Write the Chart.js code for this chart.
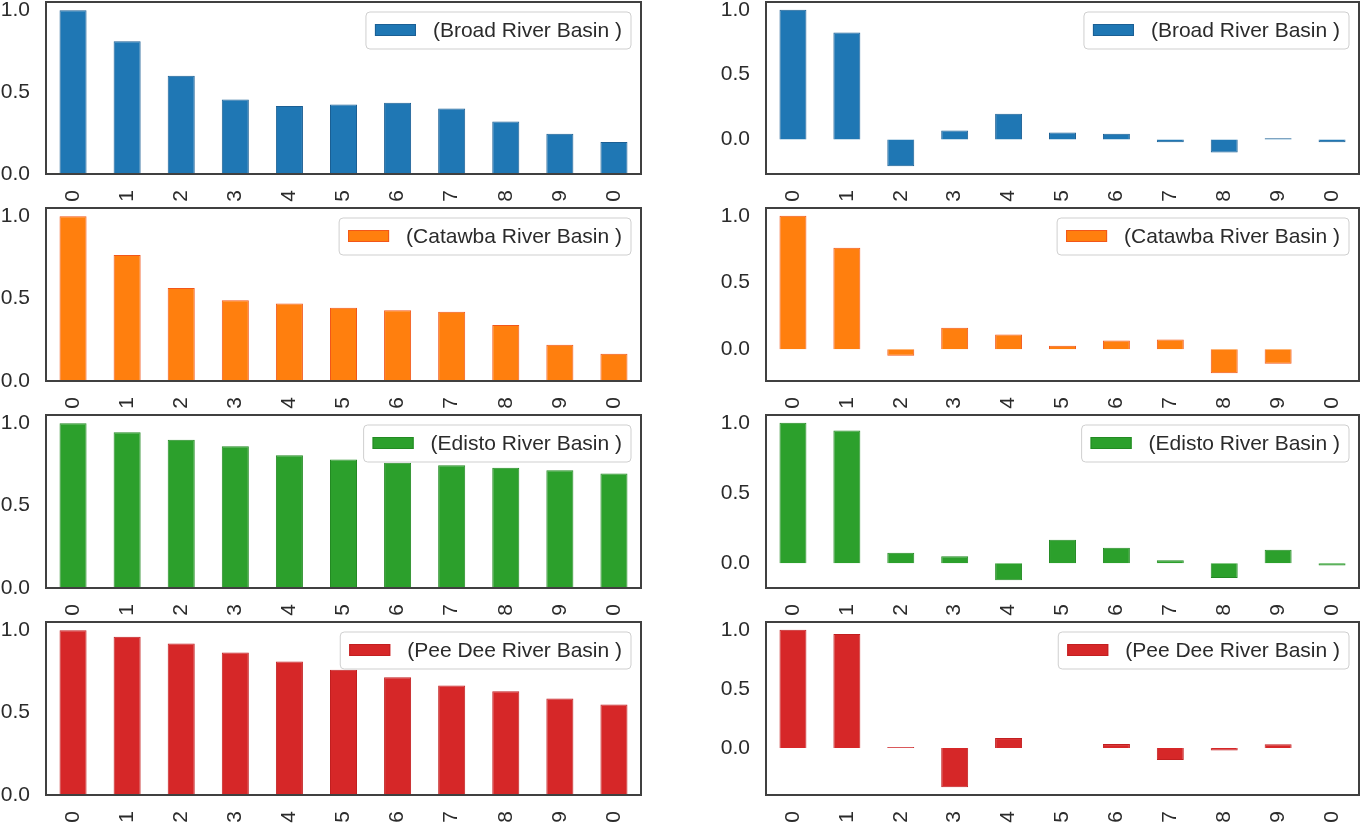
<!DOCTYPE html>
<html>
<head>
<meta charset="utf-8">
<script src="https://cdn.jsdelivr.net/npm/chart.js@4.4.0/dist/chart.umd.min.js"></script>
<style>
  body { margin: 0; background: #fff; width: 1362px; height: 827px; position: relative; overflow: hidden; }
  canvas { position: absolute; }
</style>
</head>
<body>
<script>
// lag labels (last one is shown as "0" in the original)
const lagLabels = ['0', '1', '2', '3', '4', '5', '6', '7', '8', '9', '0'];
const yTicks = [0, 0.5, 1.0];

const basinNames = ['(Broad River Basin )', '(Catawba River Basin )', '(Edisto River Basin )', '(Pee Dee River Basin )'];
const basinColors = ['#1f77b4', '#ff7f0e', '#2ca02c', '#d62728'];
const basinEdges = ['#1b5f94', '#f2561a', '#238a23', '#c21f20'];

// left column (autocorrelation)
const broadAcf   = [1.0, 0.81, 0.60, 0.455, 0.415, 0.425, 0.435, 0.40, 0.32, 0.245, 0.195];
const catawbaAcf = [1.0, 0.765, 0.565, 0.49, 0.47, 0.445, 0.43, 0.42, 0.34, 0.22, 0.165];
const edistoAcf  = [1.0, 0.945, 0.90, 0.86, 0.805, 0.78, 0.76, 0.745, 0.73, 0.715, 0.695];
const peeDeeAcf  = [1.0, 0.96, 0.92, 0.865, 0.81, 0.76, 0.715, 0.665, 0.63, 0.585, 0.55];

// right column (partial autocorrelation)
const broadPacf   = [1.0, 0.825, -0.205, 0.07, 0.2, 0.055, 0.045, -0.02, -0.10, 0.01, -0.02];
const catawbaPacf = [1.0, 0.76, -0.05, 0.16, 0.11, 0.025, 0.065, 0.073, -0.18, -0.11, 0];
const edistoPacf  = [1.0, 0.945, 0.075, 0.05, -0.12, 0.167, 0.11, 0.022, -0.105, 0.097, -0.015];
const peeDeePacf  = [1.0, 0.965, 0.01, -0.33, 0.085, 0, 0.034, -0.10, -0.02, 0.032, 0];

const acfSeries = [broadAcf, catawbaAcf, edistoAcf, peeDeeAcf];
const pacfSeries = [broadPacf, catawbaPacf, edistoPacf, peeDeePacf];

const FONT = '"Liberation Sans", Arial, Helvetica, sans-serif';
const TXT = '#2b2b2b';

// plot box positions
const rowTops = [2, 208, 415, 622];
const rowBottoms = [174, 381, 588, 795];
const columns = [
  { left: 0, width: 645, axisW: 46, padR: 4 },
  { left: 700, width: 662, axisW: 66, padR: 3 }
];

// legend in the upper right corner, inside the axes
const cornerLegend = {
  id: 'cornerLegend',
  afterDatasetsDraw(chart) {
    const ds = chart.data.datasets[0];
    const { ctx, chartArea } = chart;
    ctx.save();
    ctx.font = '21px ' + FONT;
    const tw = ctx.measureText(ds.label).width;
    const w = 9 + 41 + 17 + tw + 9;
    const h = 37;
    const x = chartArea.right - 10 - w;
    const y = chartArea.top + 10;
    ctx.beginPath();
    ctx.roundRect(x, y, w, h, 4);
    ctx.fillStyle = 'rgba(255,255,255,0.8)';
    ctx.fill();
    ctx.strokeStyle = '#cfcfcf';
    ctx.lineWidth = 1;
    ctx.stroke();
    ctx.fillStyle = ds.backgroundColor;
    ctx.fillRect(x + 9, y + 12, 41, 12);
    ctx.strokeStyle = ds.borderColor;
    ctx.strokeRect(x + 9.5, y + 12.5, 40, 11);
    ctx.fillStyle = TXT;
    ctx.textBaseline = 'middle';
    ctx.textAlign = 'left';
    ctx.fillText(ds.label, x + 67, y + h / 2 + 1);
    ctx.restore();
  }
};

// full box around the plot
const frameBox = {
  id: 'frameBox',
  afterDraw(chart) {
    const { ctx, chartArea } = chart;
    ctx.save();
    ctx.strokeStyle = '#404040';
    ctx.lineWidth = 2;
    ctx.strokeRect(chartArea.left, chartArea.top, chartArea.right - chartArea.left, chartArea.bottom - chartArea.top);
    ctx.restore();
  }
};

function axisRange(values) {
  const lo = Math.min(0, ...values);
  const hi = Math.max(...values);
  const pad = 0.05 * (hi - lo);
  return { min: lo < 0 ? lo - pad : 0, max: hi + pad };
}

function noPad(s) {
  s.paddingTop = 0;
  s.paddingBottom = 0;
  s.paddingLeft = 0;
  s.paddingRight = 0;
}

function makePanel(colIdx, row, values) {
  const col = columns[colIdx];
  const top = rowTops[row] - 2;
  const height = rowBottoms[row] + 31 - top;
  const canvas = document.createElement('canvas');
  canvas.width = col.width;
  canvas.height = height;
  canvas.style.left = col.left + 'px';
  canvas.style.top = top + 'px';
  canvas.style.width = col.width + 'px';
  canvas.style.height = height + 'px';
  document.body.appendChild(canvas);

  const range = axisRange(values);

  new Chart(canvas.getContext('2d'), {
    type: 'bar',
    data: {
      labels: lagLabels,
      datasets: [{
        label: basinNames[row],
        data: values,
        backgroundColor: basinColors[row],
        borderColor: basinEdges[row],
        borderWidth: 1,
        categoryPercentage: 1.0,
        barPercentage: 0.5
      }]
    },
    options: {
      responsive: false,
      animation: false,
      devicePixelRatio: 1,
      layout: { padding: { top: 2, right: col.padR, left: 0, bottom: 0 } },
      plugins: { legend: { display: false }, tooltip: { enabled: false } },
      scales: {
        x: {
          grid: { display: false, drawTicks: false },
          border: { display: false },
          ticks: {
            minRotation: 90, maxRotation: 90, autoSkip: false, padding: 16,
            color: TXT, font: { size: 21, family: FONT }
          },
          afterFit(s) { s.height = 31; noPad(s); }
        },
        y: {
          min: range.min,
          max: range.max,
          grid: { display: false, drawTicks: false },
          border: { display: false },
          ticks: {
            padding: 16, color: TXT, font: { size: 21, family: FONT },
            callback: v => v.toFixed(1)
          },
          afterBuildTicks(s) { s.ticks = yTicks.map(v => ({ value: v })); },
          afterFit(s) { s.width = col.axisW; noPad(s); }
        }
      }
    },
    plugins: [cornerLegend, frameBox]
  });
}

for (let r = 0; r < 4; r++) {
  makePanel(0, r, acfSeries[r]);
  makePanel(1, r, pacfSeries[r]);
}
</script>
</body>
</html>
